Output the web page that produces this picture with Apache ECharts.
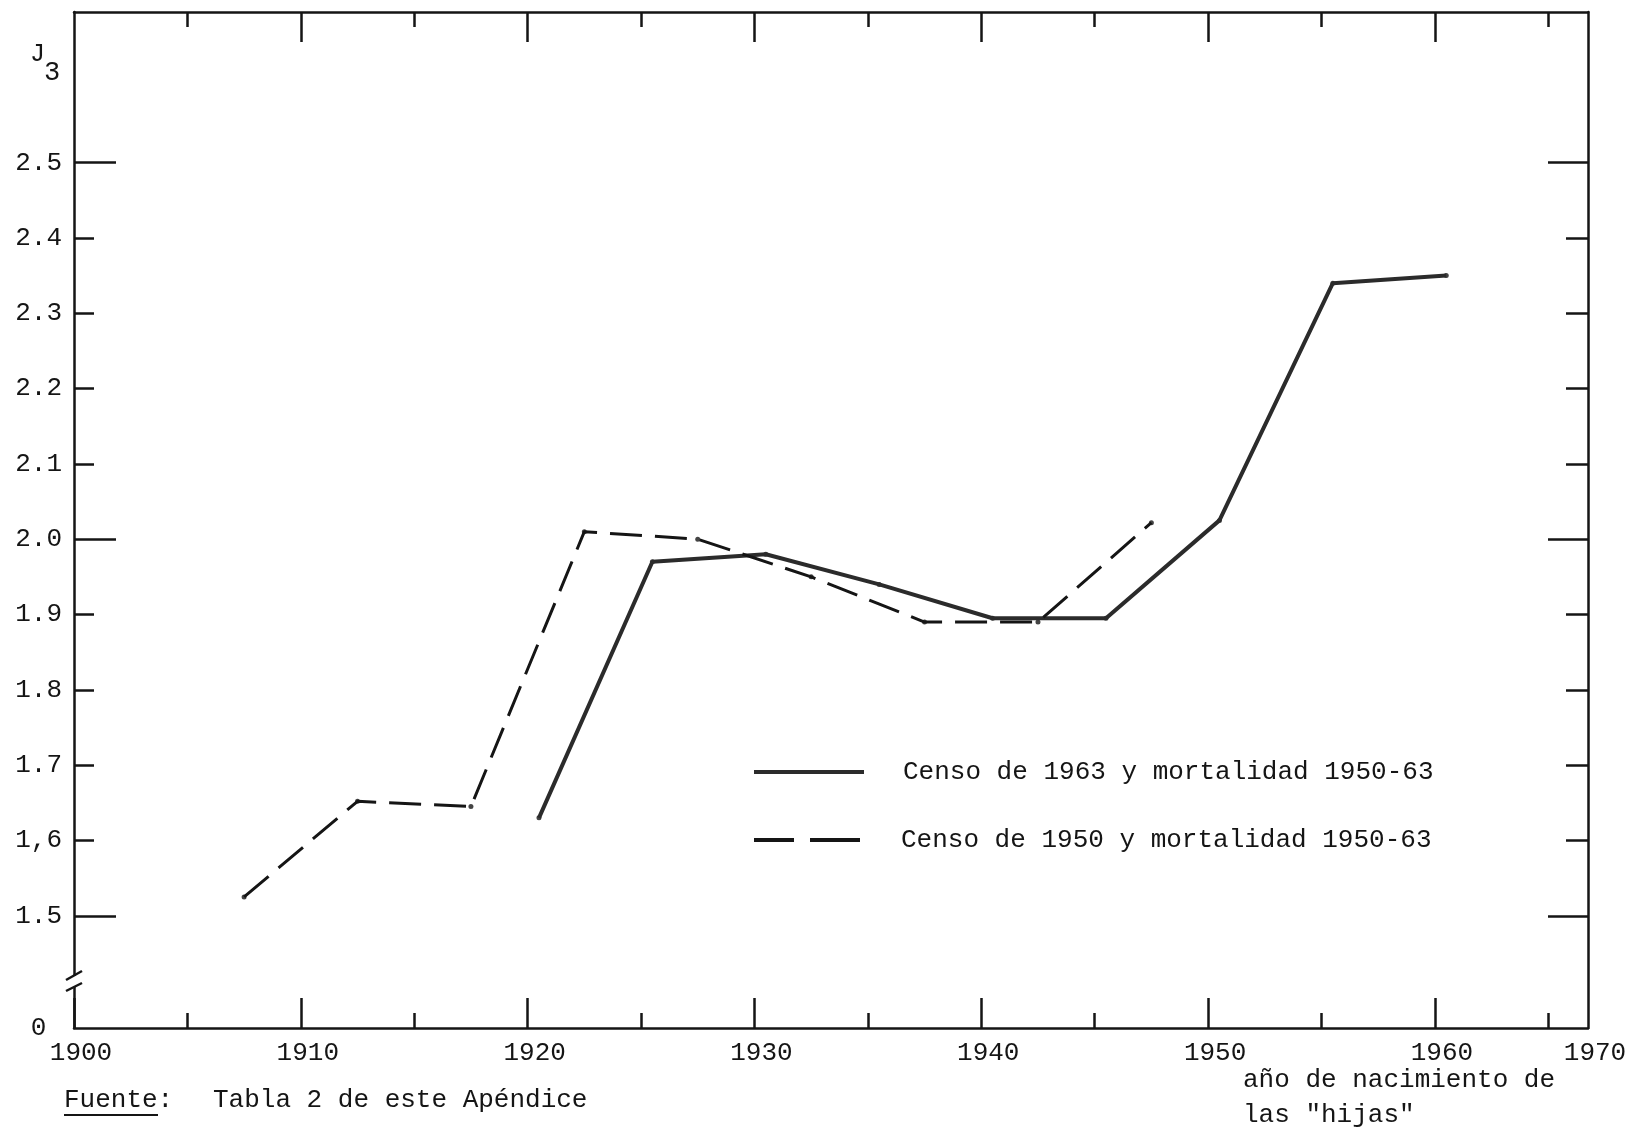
<!DOCTYPE html>
<html><head><meta charset="utf-8">
<script src="https://cdn.jsdelivr.net/npm/echarts@6/dist/echarts.min.js"></script>
<style>html,body{margin:0;padding:0;background:#fff}#c{width:1632px;height:1135px}</style>
</head><body><div id="c"></div>
<script>
// ---- data ----
const seriesNames = ['Censo de 1963 y mortalidad 1950-63', 'Censo de 1950 y mortalidad 1950-63'];
const yearsCenso1963 = [1920.5, 1925.5, 1930.5, 1935.5, 1940.5, 1945.5, 1950.5, 1955.5, 1960.5];
const j3Censo1963   = [1.63,   1.97,   1.98,   1.94,   1.895,  1.895,  2.025,  2.34,   2.35];
const yearsCenso1950 = [1907.5, 1912.5, 1917.5, 1922.5, 1927.5, 1932.5, 1937.5, 1942.5, 1947.5];
const j3Censo1950   = [1.525,  1.652,  1.645,  2.01,   2.0,    1.95,   1.89,   1.89,   2.022];

const xLabelValues = [1900, 1910, 1920, 1930, 1940, 1950, 1960];
const xEndLabel = '1970';
const xMajorTicks = [1900, 1910, 1920, 1930, 1940, 1950, 1960];
const xMinorTicks = [1905, 1915, 1925, 1935, 1945, 1955, 1965];
const yTickValues = [1.5, 1.6, 1.7, 1.8, 1.9, 2.0, 2.1, 2.2, 2.3, 2.4, 2.5];
const yTickLabels = ['1.5', '1,6', '1.7', '1.8', '1.9', '2.0', '2.1', '2.2', '2.3', '2.4', '2.5'];
const yLongTicks = [1.5, 2.0, 2.5];
const yShortTicks = [1.6, 1.7, 1.8, 1.9, 2.1, 2.2, 2.3, 2.4];
const yBottomLabel = '0';

// ---- scale extents (axis broken below 1.5; bottom edge labelled 0) ----
const X_MIN = 1900, X_MAX = 1966.75;
const Y_MIN = 1.351, Y_MAX = 2.70;

const FONT = "'Liberation Mono', 'DejaVu Sans Mono', monospace";
const INK = '#151515';
const txt = { fontFamily: FONT, fontSize: 26, color: INK };

function pair(xs, ys) { return xs.map((x, i) => [x, ys[i]]); }

function yLabel(v) {
  if (Math.abs(v - Y_MIN) < 1e-6) return yBottomLabel + ' ';
  let best = 0;
  yTickValues.forEach((t, i) => { if (Math.abs(t - v) < Math.abs(yTickValues[best] - v)) best = i; });
  return yTickLabels[best];
}

const axisLineStyle = { color: INK, width: 2.5 };
const tickStyle = { color: INK, width: 2.5 };

const xBase = { type: 'value', min: X_MIN, max: X_MAX, splitLine: { show: false } };
const yBase = { type: 'value', min: Y_MIN, max: Y_MAX, splitLine: { show: false } };

const chart = echarts.init(document.getElementById('c'), null, { renderer: 'canvas' });
chart.setOption({
  backgroundColor: '#ffffff',
  animation: false,
  grid: { left: 74, right: 44, top: 12, bottom: 107 },
  xAxis: [
    Object.assign({}, xBase, {
      position: 'bottom',
      axisLine: { show: true, lineStyle: axisLineStyle },
      axisTick: { show: true, inside: true, length: 30, customValues: xMajorTicks, lineStyle: tickStyle },
      axisLabel: Object.assign({}, txt, {
        customValues: xLabelValues.concat([X_MAX]),
        margin: 12,
        padding: [0, 0, 0, 14],
        formatter: v => (v > 1965 ? xEndLabel : String(Math.round(v)))
      })
    }),
    Object.assign({}, xBase, {
      position: 'bottom',
      axisLine: { show: false },
      axisTick: { show: true, inside: true, length: 15, customValues: xMinorTicks, lineStyle: tickStyle },
      axisLabel: { show: false }
    }),
    Object.assign({}, xBase, {
      position: 'top',
      axisLine: { show: true, lineStyle: axisLineStyle },
      axisTick: { show: true, inside: true, length: 30, customValues: xMajorTicks.slice(1), lineStyle: tickStyle },
      axisLabel: { show: false }
    }),
    Object.assign({}, xBase, {
      position: 'top',
      axisLine: { show: false },
      axisTick: { show: true, inside: true, length: 15, customValues: xMinorTicks, lineStyle: tickStyle },
      axisLabel: { show: false }
    })
  ],
  yAxis: [
    Object.assign({}, yBase, {
      position: 'left',
      axisLine: { show: true, lineStyle: axisLineStyle },
      axisTick: { show: true, inside: true, length: 20, customValues: yShortTicks, lineStyle: tickStyle },
      axisLabel: Object.assign({}, txt, {
        customValues: [Y_MIN].concat(yTickValues),
        margin: 12,
        formatter: yLabel
      })
    }),
    Object.assign({}, yBase, {
      position: 'left',
      axisLine: { show: false },
      axisTick: { show: true, inside: true, length: 42, customValues: yLongTicks, lineStyle: tickStyle },
      axisLabel: { show: false }
    }),
    Object.assign({}, yBase, {
      position: 'right',
      axisLine: { show: true, lineStyle: axisLineStyle },
      axisTick: { show: true, inside: true, length: 22, customValues: yShortTicks, lineStyle: tickStyle },
      axisLabel: { show: false }
    }),
    Object.assign({}, yBase, {
      position: 'right',
      axisLine: { show: false },
      axisTick: { show: true, inside: true, length: 40, customValues: yLongTicks, lineStyle: tickStyle },
      axisLabel: { show: false }
    })
  ],
  legend: [
    {
      data: [{ name: seriesNames[0], icon: 'rect' }],
      orient: 'vertical', left: 749, top: 754,
      itemWidth: 110, itemHeight: 4,
      itemStyle: { color: '#2b2b2b' },
      textStyle: Object.assign({}, txt, { padding: [0, 0, 0, 34] }),
      selectedMode: false
    },
    {
      data: [{ name: seriesNames[1], icon: 'path://M0,0h40v4h-40z M56,0h50v4h-50z' }],
      orient: 'vertical', left: 749, top: 822,
      itemWidth: 110, itemHeight: 4,
      itemStyle: { color: INK },
      textStyle: Object.assign({}, txt, { padding: [0, 0, 0, 34] }),
      selectedMode: false
    }
  ],
  series: [
    {
      name: seriesNames[0], type: 'line', xAxisIndex: 0, yAxisIndex: 0,
      data: pair(yearsCenso1963, j3Censo1963),
      symbol: 'none', color: '#2b2b2b',
      lineStyle: { color: '#2b2b2b', width: 4, type: 'solid' }
    },
    {
      name: seriesNames[1], type: 'line', xAxisIndex: 0, yAxisIndex: 0,
      data: pair(yearsCenso1950, j3Censo1950),
      symbol: 'none', color: INK,
      lineStyle: { color: INK, width: 3, type: [32, 13] }
    },
    {
      name: 'pts1963', type: 'scatter', xAxisIndex: 0, yAxisIndex: 0,
      data: pair(yearsCenso1963, j3Censo1963), symbolSize: 5,
      itemStyle: { color: INK }, silent: true
    },
    {
      name: 'pts1950', type: 'scatter', xAxisIndex: 0, yAxisIndex: 0,
      data: pair(yearsCenso1950, j3Censo1950), symbolSize: 5,
      itemStyle: { color: INK }, silent: true
    }
  ],
  graphic: [
    // axis break on the left axis
    { type: 'rect', z: 100, shape: { x: 68, y: 976, width: 14, height: 11 }, style: { fill: '#ffffff' } },
    { type: 'line', z: 101, shape: { x1: 66, y1: 980, x2: 82, y2: 971 }, style: { stroke: INK, lineWidth: 2.5 } },
    { type: 'line', z: 101, shape: { x1: 66, y1: 991, x2: 82, y2: 983 }, style: { stroke: INK, lineWidth: 2.5 } },
    // J3 axis title
    { type: 'text', z: 101, x: 30, y: 54, style: { text: 'J', fontFamily: FONT, fontSize: 25, fill: INK, textVerticalAlign: 'middle' } },
    { type: 'text', z: 101, x: 44, y: 73, style: { text: '3', fontFamily: FONT, fontSize: 27, fill: INK, textVerticalAlign: 'middle' } },
    // x axis title
    { type: 'text', z: 101, x: 1243, y: 1080, style: { text: 'año de nacimiento de', fontFamily: FONT, fontSize: 26, fill: INK, textVerticalAlign: 'middle' } },
    { type: 'text', z: 101, x: 1243, y: 1115, style: { text: 'las "hijas"', fontFamily: FONT, fontSize: 26, fill: INK, textVerticalAlign: 'middle' } },
    // source note
    { type: 'text', z: 101, x: 64, y: 1100, style: { text: 'Fuente:', fontFamily: FONT, fontSize: 26, fill: INK, textVerticalAlign: 'middle' } },
    { type: 'line', z: 101, shape: { x1: 64, y1: 1115, x2: 158, y2: 1115 }, style: { stroke: INK, lineWidth: 2 } },
    { type: 'text', z: 101, x: 213, y: 1100, style: { text: 'Tabla 2 de este Apéndice', fontFamily: FONT, fontSize: 26, fill: INK, textVerticalAlign: 'middle' } }
  ]
});
</script></body></html>
